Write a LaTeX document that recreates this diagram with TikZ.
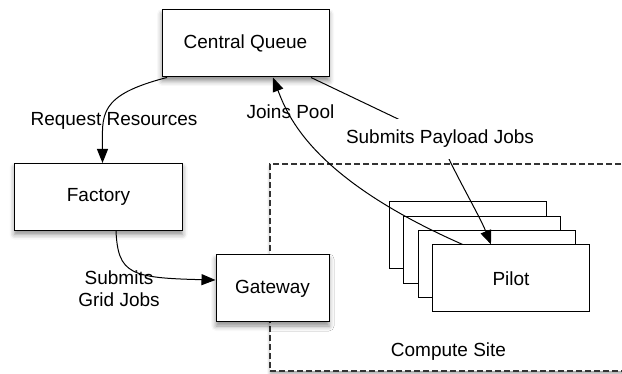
\documentclass[tikz,border=0pt]{standalone}
\usepackage{fontspec}
\setmainfont{Liberation Sans}
\usetikzlibrary{positioning,arrows.meta,shadows.blur}
\begin{document}
\begin{tikzpicture}[x=1pt,y=-1pt,node distance=14.3pt and 14.5pt,
  every node/.style={font=\fontsize{19}{22}\selectfont}]
\tikzstyle{box}=[draw,fill=white,line width=1pt,minimum width=167pt,minimum height=67pt,
  blur shadow={shadow xshift=0pt,shadow yshift=-4pt,shadow blur radius=5pt,shadow opacity=45}]
\tikzstyle{pilotbox}=[draw,fill=white,line width=1pt,minimum width=157pt,minimum height=67pt]
\tikzstyle{arrow}=[-{Triangle[length=14pt,width=11pt]},line width=1pt]
\useasboundingbox (0,0) rectangle (622,374);
% compute site
\node (site) [draw=black!80,fill=white,line width=1.5pt,dash pattern=on 6pt off 3pt,minimum width=360pt,minimum height=207pt,
  blur shadow={shadow xshift=0pt,shadow yshift=-3pt,shadow blur radius=3pt,shadow opacity=35}] at (450,267.5) {};
\node (sitelbl) at (448.5,352) {Compute Site};
% boxes
\node (queue) [box] at (245.5,43.5) {Central Queue};
\node (factory) [box,on grid,below left=153.5pt and 147pt of queue,minimum width=168pt] {Factory};
\node (gateway) [box,on grid,below right=91.5pt and 174pt of factory,minimum width=113pt] {Gateway};
\node (pilot1) [pilotbox,on grid,above right=53pt and 195pt of gateway] {};
\node (pilot2) [pilotbox,on grid,below right=of pilot1] {};
\node (pilot3) [pilotbox,on grid,below right=of pilot2] {};
\node (pilot4) [pilotbox,on grid,below right=of pilot3] {Pilot};
% connectors
\draw[arrow] ([xshift=-78.5pt]queue.south) .. controls +(-70,18) and +(0,-48) .. ([xshift=4pt]factory.north);
\draw[arrow] ([xshift=17.5pt]factory.south) .. controls +(2,43) and +(-85,-2) .. ([yshift=8.5pt]gateway.west);
\draw[arrow] ([xshift=-48.5pt]pilot4.north) .. controls +(-150,-66) and +(15,39) .. ([xshift=27.5pt]queue.south);
\draw[arrow] ([xshift=65.5pt]queue.south) -- (440,139)
  node (paylbl) [fill=white,inner xsep=2pt,minimum height=40pt] {Submits Payload Jobs}
  .. controls +(12,30) and +(-12,-30) .. ([xshift=-20pt]pilot4.north);
\node (reqlbl) at (114,120.5) {Request Resources};
\node (joinlbl) at (290.5,111.5) {Joins Pool};
\node (gridlbl) [align=center] at (119,289) {Submits\\Grid Jobs};
\end{tikzpicture}
\end{document}
